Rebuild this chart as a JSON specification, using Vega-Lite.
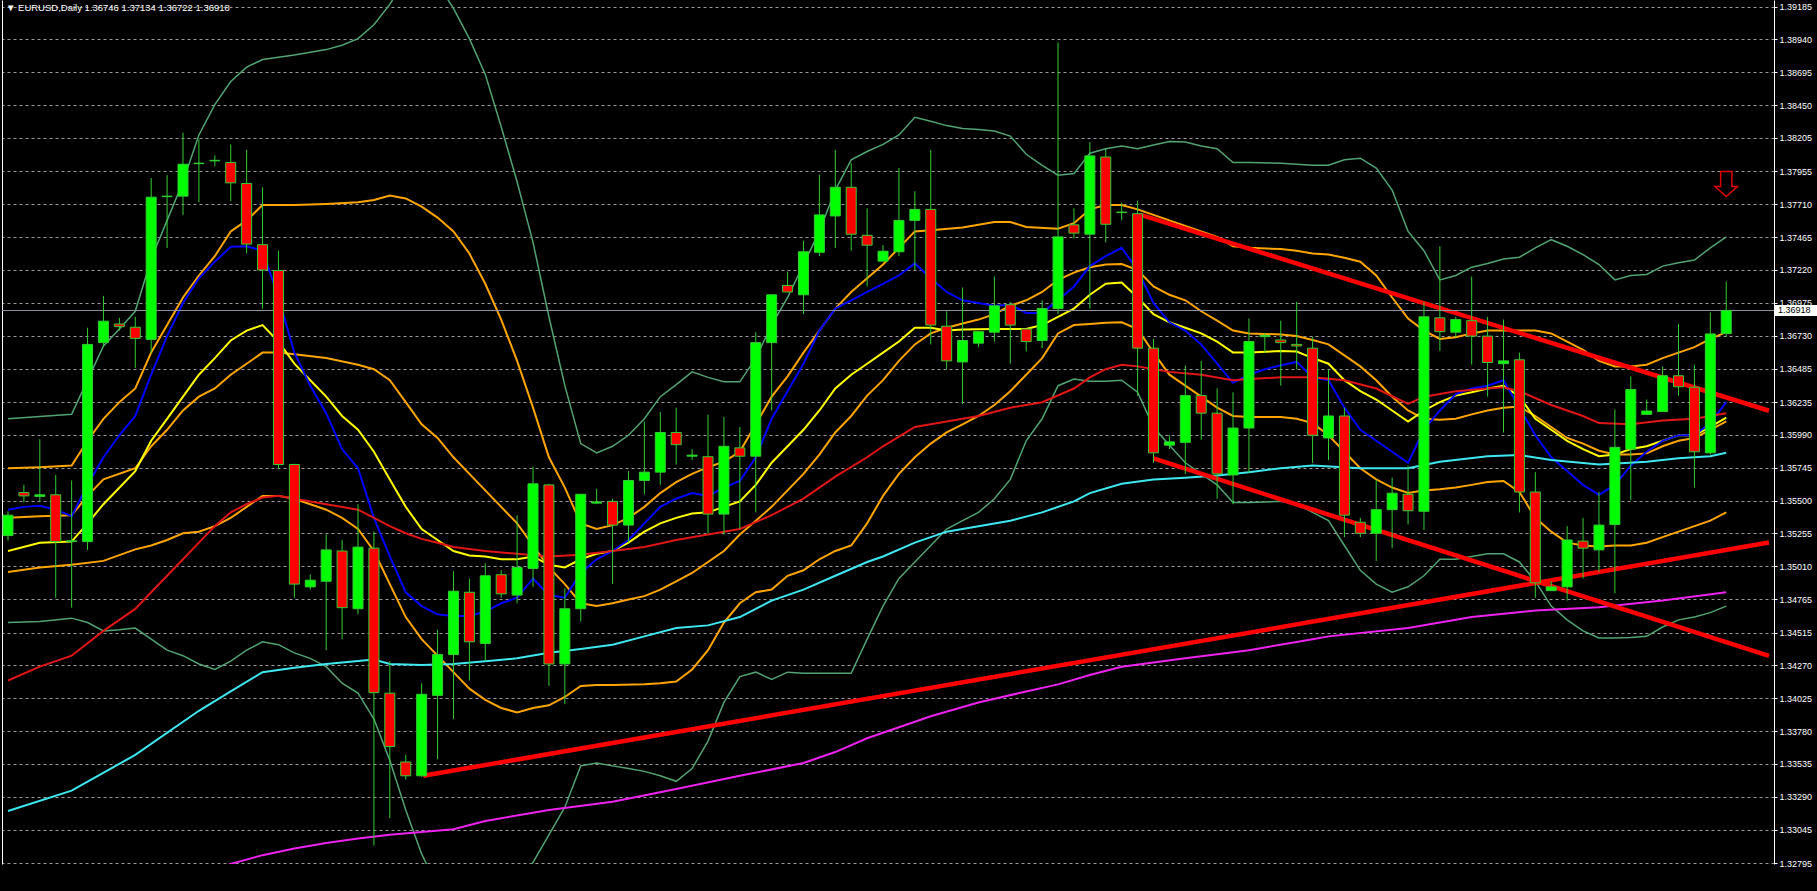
{
"$schema":"https://vega.github.io/schema/vega-lite/v6.json",
"width":1772,"height":864,
"autosize":{"type":"none"},
"padding":{"left":2,"top":0,"right":43,"bottom":27},
"background":"#000000",
"config":{"view":{"stroke":null},"font":"Liberation Sans"},
"title":{"text":"▼ EURUSD,Daily  1.36746 1.37134 1.36722 1.36918","anchor":"start","frame":"group","orient":"top","offset":-11,"dx":4,"dy":9,"color":"#ffffff","font":"Liberation Sans","fontSize":9.5,"fontWeight":"normal","baseline":"alphabetic"},
"resolve":{"axis":{"y":"independent"}},
"datasets":{
"candles":[
{"i":0,"o":1.35239,"h":1.35420,"l":1.35200,"c":1.35391},
{"i":1,"o":1.35560,"h":1.35617,"l":1.35486,"c":1.35535},
{"i":2,"o":1.35531,"h":1.35958,"l":1.35494,"c":1.35543},
{"i":3,"o":1.35543,"h":1.35691,"l":1.34775,"c":1.35194},
{"i":4,"o":1.35194,"h":1.35650,"l":1.34701,"c":1.35200},
{"i":5,"o":1.35194,"h":1.36789,"l":1.35132,"c":1.36665},
{"i":6,"o":1.36678,"h":1.37027,"l":1.36645,"c":1.36838},
{"i":7,"o":1.36817,"h":1.36863,"l":1.36768,"c":1.36797},
{"i":8,"o":1.36793,"h":1.36871,"l":1.36488,"c":1.36710},
{"i":9,"o":1.36702,"h":1.37906,"l":1.36600,"c":1.37763},
{"i":10,"o":1.37767,"h":1.37927,"l":1.37384,"c":1.37771},
{"i":11,"o":1.37771,"h":1.38244,"l":1.37631,"c":1.38009},
{"i":12,"o":1.38013,"h":1.38194,"l":1.37726,"c":1.38017},
{"i":13,"o":1.38034,"h":1.38075,"l":1.37993,"c":1.38038},
{"i":14,"o":1.38022,"h":1.38157,"l":1.37734,"c":1.37870},
{"i":15,"o":1.37865,"h":1.38116,"l":1.37343,"c":1.37413},
{"i":16,"o":1.37409,"h":1.37837,"l":1.36932,"c":1.37220},
{"i":17,"o":1.37216,"h":1.37364,"l":1.35736,"c":1.35769},
{"i":18,"o":1.35769,"h":1.35775,"l":1.34775,"c":1.34877},
{"i":19,"o":1.34856,"h":1.34948,"l":1.34836,"c":1.34906},
{"i":20,"o":1.34898,"h":1.35247,"l":1.34384,"c":1.35132},
{"i":21,"o":1.35124,"h":1.35206,"l":1.34466,"c":1.34701},
{"i":22,"o":1.34693,"h":1.35473,"l":1.34652,"c":1.35153},
{"i":23,"o":1.35145,"h":1.35268,"l":1.32925,"c":1.34067},
{"i":24,"o":1.34063,"h":1.34302,"l":1.33131,"c":1.33665},
{"i":25,"o":1.33550,"h":1.33603,"l":1.33418,"c":1.33447},
{"i":26,"o":1.33447,"h":1.34137,"l":1.33439,"c":1.34055},
{"i":27,"o":1.34047,"h":1.34536,"l":1.33570,"c":1.34351},
{"i":28,"o":1.34351,"h":1.34972,"l":1.33870,"c":1.34824},
{"i":29,"o":1.34816,"h":1.34919,"l":1.34158,"c":1.34446},
{"i":30,"o":1.34434,"h":1.35033,"l":1.34302,"c":1.34939},
{"i":31,"o":1.34947,"h":1.34980,"l":1.34775,"c":1.34804},
{"i":32,"o":1.34795,"h":1.35391,"l":1.34734,"c":1.35001},
{"i":33,"o":1.34993,"h":1.35753,"l":1.34857,"c":1.35625},
{"i":34,"o":1.35617,"h":1.35625,"l":1.34117,"c":1.34281},
{"i":35,"o":1.34281,"h":1.34845,"l":1.33981,"c":1.34693},
{"i":36,"o":1.34693,"h":1.35547,"l":1.34598,"c":1.35547},
{"i":37,"o":1.35481,"h":1.35588,"l":1.35473,"c":1.35490},
{"i":38,"o":1.35494,"h":1.35514,"l":1.34877,"c":1.35317},
{"i":39,"o":1.35317,"h":1.35720,"l":1.35186,"c":1.35650},
{"i":40,"o":1.35650,"h":1.36090,"l":1.35547,"c":1.35712},
{"i":41,"o":1.35712,"h":1.36160,"l":1.35617,"c":1.36008},
{"i":42,"o":1.36008,"h":1.36193,"l":1.35769,"c":1.35917},
{"i":43,"o":1.35831,"h":1.35884,"l":1.35802,"c":1.35839},
{"i":44,"o":1.35827,"h":1.36140,"l":1.35256,"c":1.35399},
{"i":45,"o":1.35399,"h":1.36123,"l":1.35247,"c":1.35905},
{"i":46,"o":1.35893,"h":1.36049,"l":1.35288,"c":1.35831},
{"i":47,"o":1.35831,"h":1.36756,"l":1.35412,"c":1.36678},
{"i":48,"o":1.36678,"h":1.37035,"l":1.36172,"c":1.37035},
{"i":49,"o":1.37105,"h":1.37208,"l":1.37056,"c":1.37056},
{"i":50,"o":1.37035,"h":1.37438,"l":1.36891,"c":1.37356},
{"i":51,"o":1.37352,"h":1.37931,"l":1.37323,"c":1.37631},
{"i":52,"o":1.37623,"h":1.38116,"l":1.37384,"c":1.37837},
{"i":53,"o":1.37837,"h":1.38017,"l":1.37364,"c":1.37487},
{"i":54,"o":1.37479,"h":1.37680,"l":1.37097,"c":1.37405},
{"i":55,"o":1.37286,"h":1.37405,"l":1.37286,"c":1.37360},
{"i":56,"o":1.37356,"h":1.37981,"l":1.37323,"c":1.37590},
{"i":57,"o":1.37590,"h":1.37808,"l":1.37220,"c":1.37672},
{"i":58,"o":1.37672,"h":1.38116,"l":1.36665,"c":1.36809},
{"i":59,"o":1.36801,"h":1.36912,"l":1.36480,"c":1.36542},
{"i":60,"o":1.36534,"h":1.37089,"l":1.36221,"c":1.36694},
{"i":61,"o":1.36674,"h":1.36760,"l":1.36645,"c":1.36760},
{"i":62,"o":1.36756,"h":1.37171,"l":1.36686,"c":1.36953},
{"i":63,"o":1.36961,"h":1.36982,"l":1.36521,"c":1.36809},
{"i":64,"o":1.36780,"h":1.36780,"l":1.36612,"c":1.36686},
{"i":65,"o":1.36694,"h":1.36994,"l":1.36637,"c":1.36932},
{"i":66,"o":1.36932,"h":1.38917,"l":1.36891,"c":1.37467},
{"i":67,"o":1.37557,"h":1.37680,"l":1.37454,"c":1.37495},
{"i":68,"o":1.37487,"h":1.38174,"l":1.36932,"c":1.38071},
{"i":69,"o":1.38063,"h":1.38124,"l":1.37426,"c":1.37561},
{"i":70,"o":1.37652,"h":1.37722,"l":1.37590,"c":1.37648},
{"i":71,"o":1.37640,"h":1.37734,"l":1.36283,"c":1.36637},
{"i":72,"o":1.36637,"h":1.36706,"l":1.35781,"c":1.35856},
{"i":73,"o":1.35913,"h":1.35987,"l":1.35884,"c":1.35938},
{"i":74,"o":1.35934,"h":1.36509,"l":1.35699,"c":1.36283},
{"i":75,"o":1.36283,"h":1.36542,"l":1.35954,"c":1.36152},
{"i":76,"o":1.36152,"h":1.36337,"l":1.35514,"c":1.35699},
{"i":77,"o":1.35691,"h":1.36308,"l":1.35473,"c":1.36041},
{"i":78,"o":1.36041,"h":1.36858,"l":1.35708,"c":1.36686},
{"i":79,"o":1.36723,"h":1.36748,"l":1.36604,"c":1.36731},
{"i":80,"o":1.36698,"h":1.36842,"l":1.36357,"c":1.36678},
{"i":81,"o":1.36665,"h":1.36982,"l":1.36480,"c":1.36653},
{"i":82,"o":1.36637,"h":1.36719,"l":1.35781,"c":1.35987},
{"i":83,"o":1.35967,"h":1.36480,"l":1.35802,"c":1.36131},
{"i":84,"o":1.36131,"h":1.36193,"l":1.35227,"c":1.35391},
{"i":85,"o":1.35338,"h":1.35371,"l":1.35227,"c":1.35256},
{"i":86,"o":1.35256,"h":1.35658,"l":1.35050,"c":1.35432},
{"i":87,"o":1.35432,"h":1.35671,"l":1.35145,"c":1.35555},
{"i":88,"o":1.35547,"h":1.35761,"l":1.35321,"c":1.35424},
{"i":89,"o":1.35420,"h":1.36982,"l":1.35280,"c":1.36871},
{"i":90,"o":1.36863,"h":1.37397,"l":1.36616,"c":1.36760},
{"i":91,"o":1.36756,"h":1.36871,"l":1.36719,"c":1.36850},
{"i":92,"o":1.36842,"h":1.37171,"l":1.36513,"c":1.36727},
{"i":93,"o":1.36727,"h":1.36871,"l":1.36275,"c":1.36530},
{"i":94,"o":1.36521,"h":1.36850,"l":1.36008,"c":1.36542},
{"i":95,"o":1.36550,"h":1.36604,"l":1.35412,"c":1.35564},
{"i":96,"o":1.35564,"h":1.35712,"l":1.34775,"c":1.34886},
{"i":97,"o":1.34828,"h":1.34898,"l":1.34828,"c":1.34856},
{"i":98,"o":1.34856,"h":1.35309,"l":1.34754,"c":1.35206},
{"i":99,"o":1.35198,"h":1.35371,"l":1.34918,"c":1.35145},
{"i":100,"o":1.35132,"h":1.35564,"l":1.34968,"c":1.35317},
{"i":101,"o":1.35321,"h":1.36180,"l":1.34808,"c":1.35897},
{"i":102,"o":1.35884,"h":1.36427,"l":1.35502,"c":1.36328},
{"i":103,"o":1.36143,"h":1.36254,"l":1.36143,"c":1.36168},
{"i":104,"o":1.36164,"h":1.36501,"l":1.36164,"c":1.36431},
{"i":105,"o":1.36431,"h":1.36817,"l":1.36283,"c":1.36349},
{"i":106,"o":1.36345,"h":1.36513,"l":1.35597,"c":1.35864},
{"i":107,"o":1.35856,"h":1.36904,"l":1.35843,"c":1.36743},
{"i":108,"o":1.36746,"h":1.37134,"l":1.36722,"c":1.36918}
],
"lines":[
{"s":"bbu","i":0,"v":1.36110},{"s":"bbu","i":4,"v":1.36143},{"s":"bbu","i":5,"v":1.36398},{"s":"bbu","i":6,"v":1.36653},{"s":"bbu","i":7,"v":1.36780},{"s":"bbu","i":8,"v":1.36912},{"s":"bbu","i":9,"v":1.37302},{"s":"bbu","i":10,"v":1.37590},{"s":"bbu","i":11,"v":1.37878},{"s":"bbu","i":12,"v":1.38227},{"s":"bbu","i":13,"v":1.38453},{"s":"bbu","i":14,"v":1.38626},{"s":"bbu","i":15,"v":1.38733},{"s":"bbu","i":16,"v":1.38790},{"s":"bbu","i":18,"v":1.38823},{"s":"bbu","i":20,"v":1.38864},{"s":"bbu","i":21,"v":1.38897},{"s":"bbu","i":22,"v":1.38946},{"s":"bbu","i":23,"v":1.39049},{"s":"bbu","i":24,"v":1.39201},{"s":"bbu","i":25,"v":1.39398},{"s":"bbu","i":26,"v":1.39460},{"s":"bbu","i":27,"v":1.39357},{"s":"bbu","i":28,"v":1.39172},{"s":"bbu","i":29,"v":1.38946},{"s":"bbu","i":30,"v":1.38679},{"s":"bbu","i":31,"v":1.38289},{"s":"bbu","i":32,"v":1.37878},{"s":"bbu","i":33,"v":1.37426},{"s":"bbu","i":34,"v":1.36871},{"s":"bbu","i":35,"v":1.36357},{"s":"bbu","i":36,"v":1.35925},{"s":"bbu","i":37,"v":1.35856},{"s":"bbu","i":38,"v":1.35905},{"s":"bbu","i":39,"v":1.35987},{"s":"bbu","i":40,"v":1.36110},{"s":"bbu","i":41,"v":1.36275},{"s":"bbu","i":42,"v":1.36365},{"s":"bbu","i":43,"v":1.36460},{"s":"bbu","i":44,"v":1.36419},{"s":"bbu","i":45,"v":1.36386},{"s":"bbu","i":46,"v":1.36386},{"s":"bbu","i":47,"v":1.36563},{"s":"bbu","i":48,"v":1.36809},{"s":"bbu","i":49,"v":1.37015},{"s":"bbu","i":50,"v":1.37261},{"s":"bbu","i":51,"v":1.37508},{"s":"bbu","i":52,"v":1.37816},{"s":"bbu","i":53,"v":1.38042},{"s":"bbu","i":54,"v":1.38104},{"s":"bbu","i":55,"v":1.38157},{"s":"bbu","i":56,"v":1.38227},{"s":"bbu","i":57,"v":1.38359},{"s":"bbu","i":58,"v":1.38330},{"s":"bbu","i":59,"v":1.38297},{"s":"bbu","i":60,"v":1.38276},{"s":"bbu","i":61,"v":1.38268},{"s":"bbu","i":62,"v":1.38256},{"s":"bbu","i":63,"v":1.38219},{"s":"bbu","i":64,"v":1.38083},{"s":"bbu","i":65,"v":1.38001},{"s":"bbu","i":66,"v":1.37927},{"s":"bbu","i":67,"v":1.37939},{"s":"bbu","i":68,"v":1.38091},{"s":"bbu","i":69,"v":1.38124},{"s":"bbu","i":70,"v":1.38145},{"s":"bbu","i":71,"v":1.38124},{"s":"bbu","i":72,"v":1.38153},{"s":"bbu","i":73,"v":1.38178},{"s":"bbu","i":74,"v":1.38174},{"s":"bbu","i":75,"v":1.38145},{"s":"bbu","i":76,"v":1.38124},{"s":"bbu","i":77,"v":1.38022},{"s":"bbu","i":78,"v":1.38022},{"s":"bbu","i":80,"v":1.38017},{"s":"bbu","i":82,"v":1.38001},{"s":"bbu","i":83,"v":1.38001},{"s":"bbu","i":84,"v":1.38042},{"s":"bbu","i":85,"v":1.38054},{"s":"bbu","i":86,"v":1.37980},{"s":"bbu","i":87,"v":1.37816},{"s":"bbu","i":88,"v":1.37508},{"s":"bbu","i":89,"v":1.37364},{"s":"bbu","i":90,"v":1.37146},{"s":"bbu","i":91,"v":1.37179},{"s":"bbu","i":92,"v":1.37241},{"s":"bbu","i":93,"v":1.37269},{"s":"bbu","i":94,"v":1.37302},{"s":"bbu","i":95,"v":1.37315},{"s":"bbu","i":96,"v":1.37385},{"s":"bbu","i":97,"v":1.37446},{"s":"bbu","i":98,"v":1.37397},{"s":"bbu","i":99,"v":1.37335},{"s":"bbu","i":100,"v":1.37261},{"s":"bbu","i":101,"v":1.37146},{"s":"bbu","i":102,"v":1.37179},{"s":"bbu","i":103,"v":1.37187},{"s":"bbu","i":104,"v":1.37249},{"s":"bbu","i":105,"v":1.37274},{"s":"bbu","i":106,"v":1.37294},{"s":"bbu","i":107,"v":1.37385},{"s":"bbu","i":108,"v":1.37467},
{"s":"bbl","i":0,"v":1.34590},{"s":"bbl","i":2,"v":1.34598},{"s":"bbl","i":4,"v":1.34623},{"s":"bbl","i":5,"v":1.34590},{"s":"bbl","i":6,"v":1.34528},{"s":"bbl","i":7,"v":1.34536},{"s":"bbl","i":8,"v":1.34549},{"s":"bbl","i":9,"v":1.34466},{"s":"bbl","i":10,"v":1.34384},{"s":"bbl","i":11,"v":1.34343},{"s":"bbl","i":12,"v":1.34281},{"s":"bbl","i":13,"v":1.34240},{"s":"bbl","i":14,"v":1.34302},{"s":"bbl","i":15,"v":1.34384},{"s":"bbl","i":16,"v":1.34446},{"s":"bbl","i":17,"v":1.34425},{"s":"bbl","i":18,"v":1.34364},{"s":"bbl","i":19,"v":1.34323},{"s":"bbl","i":20,"v":1.34261},{"s":"bbl","i":21,"v":1.34138},{"s":"bbl","i":22,"v":1.34064},{"s":"bbl","i":23,"v":1.33870},{"s":"bbl","i":24,"v":1.33562},{"s":"bbl","i":25,"v":1.33192},{"s":"bbl","i":26,"v":1.32864},{"s":"bbl","i":27,"v":1.32617},{"s":"bbl","i":28,"v":1.32453},{"s":"bbl","i":29,"v":1.32370},{"s":"bbl","i":30,"v":1.32411},{"s":"bbl","i":31,"v":1.32494},{"s":"bbl","i":32,"v":1.32658},{"s":"bbl","i":33,"v":1.32802},{"s":"bbl","i":34,"v":1.33007},{"s":"bbl","i":35,"v":1.33213},{"s":"bbl","i":36,"v":1.33521},{"s":"bbl","i":37,"v":1.33542},{"s":"bbl","i":38,"v":1.33521},{"s":"bbl","i":39,"v":1.33501},{"s":"bbl","i":40,"v":1.33480},{"s":"bbl","i":41,"v":1.33447},{"s":"bbl","i":42,"v":1.33406},{"s":"bbl","i":43,"v":1.33501},{"s":"bbl","i":44,"v":1.33706},{"s":"bbl","i":45,"v":1.33994},{"s":"bbl","i":46,"v":1.34187},{"s":"bbl","i":47,"v":1.34220},{"s":"bbl","i":48,"v":1.34166},{"s":"bbl","i":49,"v":1.34220},{"s":"bbl","i":50,"v":1.34212},{"s":"bbl","i":52,"v":1.34212},{"s":"bbl","i":53,"v":1.34212},{"s":"bbl","i":54,"v":1.34466},{"s":"bbl","i":55,"v":1.34713},{"s":"bbl","i":56,"v":1.34919},{"s":"bbl","i":57,"v":1.35042},{"s":"bbl","i":58,"v":1.35165},{"s":"bbl","i":59,"v":1.35288},{"s":"bbl","i":60,"v":1.35350},{"s":"bbl","i":61,"v":1.35412},{"s":"bbl","i":62,"v":1.35514},{"s":"bbl","i":63,"v":1.35658},{"s":"bbl","i":64,"v":1.35946},{"s":"bbl","i":65,"v":1.36110},{"s":"bbl","i":66,"v":1.36357},{"s":"bbl","i":67,"v":1.36406},{"s":"bbl","i":68,"v":1.36390},{"s":"bbl","i":69,"v":1.36390},{"s":"bbl","i":70,"v":1.36398},{"s":"bbl","i":71,"v":1.36308},{"s":"bbl","i":72,"v":1.36049},{"s":"bbl","i":73,"v":1.35913},{"s":"bbl","i":74,"v":1.35782},{"s":"bbl","i":75,"v":1.35699},{"s":"bbl","i":76,"v":1.35617},{"s":"bbl","i":77,"v":1.35486},{"s":"bbl","i":78,"v":1.35486},{"s":"bbl","i":80,"v":1.35494},{"s":"bbl","i":81,"v":1.35473},{"s":"bbl","i":82,"v":1.35412},{"s":"bbl","i":83,"v":1.35350},{"s":"bbl","i":84,"v":1.35165},{"s":"bbl","i":85,"v":1.34980},{"s":"bbl","i":86,"v":1.34877},{"s":"bbl","i":87,"v":1.34816},{"s":"bbl","i":88,"v":1.34857},{"s":"bbl","i":89,"v":1.34939},{"s":"bbl","i":90,"v":1.35062},{"s":"bbl","i":91,"v":1.35062},{"s":"bbl","i":92,"v":1.35083},{"s":"bbl","i":93,"v":1.35103},{"s":"bbl","i":94,"v":1.35103},{"s":"bbl","i":95,"v":1.35042},{"s":"bbl","i":96,"v":1.34898},{"s":"bbl","i":97,"v":1.34713},{"s":"bbl","i":98,"v":1.34610},{"s":"bbl","i":99,"v":1.34528},{"s":"bbl","i":100,"v":1.34475},{"s":"bbl","i":101,"v":1.34475},{"s":"bbl","i":102,"v":1.34479},{"s":"bbl","i":103,"v":1.34487},{"s":"bbl","i":104,"v":1.34557},{"s":"bbl","i":105,"v":1.34610},{"s":"bbl","i":106,"v":1.34631},{"s":"bbl","i":107,"v":1.34664},{"s":"bbl","i":108,"v":1.34713},
{"s":"ou","i":0,"v":1.35741},{"s":"ou","i":2,"v":1.35749},{"s":"ou","i":4,"v":1.35761},{"s":"ou","i":5,"v":1.35946},{"s":"ou","i":6,"v":1.36110},{"s":"ou","i":7,"v":1.36234},{"s":"ou","i":8,"v":1.36336},{"s":"ou","i":9,"v":1.36604},{"s":"ou","i":10,"v":1.36809},{"s":"ou","i":11,"v":1.37015},{"s":"ou","i":12,"v":1.37179},{"s":"ou","i":13,"v":1.37323},{"s":"ou","i":14,"v":1.37508},{"s":"ou","i":15,"v":1.37590},{"s":"ou","i":16,"v":1.37705},{"s":"ou","i":18,"v":1.37705},{"s":"ou","i":20,"v":1.37713},{"s":"ou","i":22,"v":1.37726},{"s":"ou","i":23,"v":1.37742},{"s":"ou","i":24,"v":1.37775},{"s":"ou","i":25,"v":1.37754},{"s":"ou","i":26,"v":1.37693},{"s":"ou","i":27,"v":1.37611},{"s":"ou","i":28,"v":1.37508},{"s":"ou","i":29,"v":1.37343},{"s":"ou","i":30,"v":1.37117},{"s":"ou","i":31,"v":1.36850},{"s":"ou","i":32,"v":1.36542},{"s":"ou","i":33,"v":1.36193},{"s":"ou","i":34,"v":1.35823},{"s":"ou","i":35,"v":1.35597},{"s":"ou","i":36,"v":1.35330},{"s":"ou","i":37,"v":1.35288},{"s":"ou","i":38,"v":1.35317},{"s":"ou","i":39,"v":1.35371},{"s":"ou","i":40,"v":1.35453},{"s":"ou","i":41,"v":1.35556},{"s":"ou","i":42,"v":1.35638},{"s":"ou","i":43,"v":1.35699},{"s":"ou","i":44,"v":1.35749},{"s":"ou","i":45,"v":1.35790},{"s":"ou","i":46,"v":1.35864},{"s":"ou","i":47,"v":1.36069},{"s":"ou","i":48,"v":1.36275},{"s":"ou","i":49,"v":1.36427},{"s":"ou","i":50,"v":1.36604},{"s":"ou","i":51,"v":1.36768},{"s":"ou","i":52,"v":1.36932},{"s":"ou","i":53,"v":1.37056},{"s":"ou","i":54,"v":1.37158},{"s":"ou","i":55,"v":1.37261},{"s":"ou","i":56,"v":1.37385},{"s":"ou","i":57,"v":1.37508},{"s":"ou","i":58,"v":1.37516},{"s":"ou","i":60,"v":1.37537},{"s":"ou","i":62,"v":1.37578},{"s":"ou","i":63,"v":1.37578},{"s":"ou","i":64,"v":1.37541},{"s":"ou","i":66,"v":1.37528},{"s":"ou","i":67,"v":1.37569},{"s":"ou","i":68,"v":1.37672},{"s":"ou","i":69,"v":1.37705},{"s":"ou","i":70,"v":1.37705},{"s":"ou","i":71,"v":1.37672},{"s":"ou","i":72,"v":1.37631},{"s":"ou","i":73,"v":1.37590},{"s":"ou","i":74,"v":1.37549},{"s":"ou","i":75,"v":1.37508},{"s":"ou","i":76,"v":1.37467},{"s":"ou","i":77,"v":1.37397},{"s":"ou","i":78,"v":1.37385},{"s":"ou","i":80,"v":1.37376},{"s":"ou","i":81,"v":1.37364},{"s":"ou","i":82,"v":1.37343},{"s":"ou","i":83,"v":1.37335},{"s":"ou","i":84,"v":1.37311},{"s":"ou","i":85,"v":1.37282},{"s":"ou","i":86,"v":1.37179},{"s":"ou","i":87,"v":1.37015},{"s":"ou","i":88,"v":1.36858},{"s":"ou","i":89,"v":1.36768},{"s":"ou","i":90,"v":1.36706},{"s":"ou","i":91,"v":1.36719},{"s":"ou","i":92,"v":1.36747},{"s":"ou","i":93,"v":1.36768},{"s":"ou","i":95,"v":1.36768},{"s":"ou","i":96,"v":1.36768},{"s":"ou","i":97,"v":1.36747},{"s":"ou","i":98,"v":1.36686},{"s":"ou","i":99,"v":1.36624},{"s":"ou","i":100,"v":1.36542},{"s":"ou","i":101,"v":1.36501},{"s":"ou","i":102,"v":1.36501},{"s":"ou","i":103,"v":1.36513},{"s":"ou","i":104,"v":1.36563},{"s":"ou","i":105,"v":1.36604},{"s":"ou","i":106,"v":1.36645},{"s":"ou","i":107,"v":1.36706},{"s":"ou","i":108,"v":1.36756},
{"s":"om","i":0,"v":1.35371},{"s":"om","i":2,"v":1.35383},{"s":"om","i":4,"v":1.35391},{"s":"om","i":5,"v":1.35535},{"s":"om","i":6,"v":1.35658},{"s":"om","i":8,"v":1.35741},{"s":"om","i":9,"v":1.35905},{"s":"om","i":10,"v":1.36028},{"s":"om","i":11,"v":1.36172},{"s":"om","i":12,"v":1.36275},{"s":"om","i":13,"v":1.36336},{"s":"om","i":14,"v":1.36439},{"s":"om","i":15,"v":1.36521},{"s":"om","i":16,"v":1.36604},{"s":"om","i":17,"v":1.36604},{"s":"om","i":18,"v":1.36591},{"s":"om","i":20,"v":1.36563},{"s":"om","i":22,"v":1.36513},{"s":"om","i":23,"v":1.36480},{"s":"om","i":24,"v":1.36398},{"s":"om","i":25,"v":1.36234},{"s":"om","i":26,"v":1.36069},{"s":"om","i":27,"v":1.35967},{"s":"om","i":28,"v":1.35823},{"s":"om","i":29,"v":1.35699},{"s":"om","i":30,"v":1.35576},{"s":"om","i":31,"v":1.35453},{"s":"om","i":32,"v":1.35330},{"s":"om","i":33,"v":1.35165},{"s":"om","i":34,"v":1.35001},{"s":"om","i":35,"v":1.34877},{"s":"om","i":36,"v":1.34734},{"s":"om","i":37,"v":1.34713},{"s":"om","i":38,"v":1.34734},{"s":"om","i":39,"v":1.34762},{"s":"om","i":40,"v":1.34787},{"s":"om","i":41,"v":1.34836},{"s":"om","i":42,"v":1.34898},{"s":"om","i":43,"v":1.34960},{"s":"om","i":44,"v":1.35042},{"s":"om","i":45,"v":1.35124},{"s":"om","i":46,"v":1.35247},{"s":"om","i":47,"v":1.35350},{"s":"om","i":48,"v":1.35453},{"s":"om","i":49,"v":1.35576},{"s":"om","i":50,"v":1.35699},{"s":"om","i":51,"v":1.35843},{"s":"om","i":52,"v":1.36008},{"s":"om","i":53,"v":1.36131},{"s":"om","i":54,"v":1.36283},{"s":"om","i":55,"v":1.36398},{"s":"om","i":56,"v":1.36542},{"s":"om","i":57,"v":1.36665},{"s":"om","i":58,"v":1.36747},{"s":"om","i":59,"v":1.36789},{"s":"om","i":60,"v":1.36821},{"s":"om","i":61,"v":1.36850},{"s":"om","i":62,"v":1.36891},{"s":"om","i":63,"v":1.36953},{"s":"om","i":64,"v":1.36994},{"s":"om","i":65,"v":1.37056},{"s":"om","i":66,"v":1.37146},{"s":"om","i":67,"v":1.37200},{"s":"om","i":68,"v":1.37241},{"s":"om","i":69,"v":1.37261},{"s":"om","i":70,"v":1.37265},{"s":"om","i":71,"v":1.37220},{"s":"om","i":72,"v":1.37097},{"s":"om","i":73,"v":1.37035},{"s":"om","i":74,"v":1.36994},{"s":"om","i":75,"v":1.36912},{"s":"om","i":76,"v":1.36842},{"s":"om","i":77,"v":1.36768},{"s":"om","i":78,"v":1.36747},{"s":"om","i":80,"v":1.36739},{"s":"om","i":81,"v":1.36727},{"s":"om","i":82,"v":1.36698},{"s":"om","i":83,"v":1.36665},{"s":"om","i":84,"v":1.36583},{"s":"om","i":85,"v":1.36501},{"s":"om","i":86,"v":1.36398},{"s":"om","i":87,"v":1.36275},{"s":"om","i":88,"v":1.36172},{"s":"om","i":89,"v":1.36110},{"s":"om","i":90,"v":1.36102},{"s":"om","i":91,"v":1.36110},{"s":"om","i":92,"v":1.36143},{"s":"om","i":93,"v":1.36172},{"s":"om","i":94,"v":1.36193},{"s":"om","i":95,"v":1.36201},{"s":"om","i":96,"v":1.36131},{"s":"om","i":97,"v":1.36049},{"s":"om","i":98,"v":1.35967},{"s":"om","i":99,"v":1.35925},{"s":"om","i":100,"v":1.35872},{"s":"om","i":101,"v":1.35843},{"s":"om","i":102,"v":1.35843},{"s":"om","i":103,"v":1.35852},{"s":"om","i":104,"v":1.35905},{"s":"om","i":105,"v":1.35946},{"s":"om","i":106,"v":1.35967},{"s":"om","i":107,"v":1.36028},{"s":"om","i":108,"v":1.36090},
{"s":"ol","i":0,"v":1.34968},{"s":"ol","i":2,"v":1.35001},{"s":"ol","i":4,"v":1.35021},{"s":"ol","i":6,"v":1.35050},{"s":"ol","i":8,"v":1.35136},{"s":"ol","i":9,"v":1.35165},{"s":"ol","i":10,"v":1.35206},{"s":"ol","i":11,"v":1.35256},{"s":"ol","i":12,"v":1.35268},{"s":"ol","i":13,"v":1.35309},{"s":"ol","i":14,"v":1.35371},{"s":"ol","i":15,"v":1.35453},{"s":"ol","i":16,"v":1.35535},{"s":"ol","i":17,"v":1.35535},{"s":"ol","i":18,"v":1.35514},{"s":"ol","i":19,"v":1.35473},{"s":"ol","i":20,"v":1.35432},{"s":"ol","i":21,"v":1.35371},{"s":"ol","i":22,"v":1.35288},{"s":"ol","i":23,"v":1.35124},{"s":"ol","i":24,"v":1.34877},{"s":"ol","i":25,"v":1.34631},{"s":"ol","i":26,"v":1.34466},{"s":"ol","i":27,"v":1.34343},{"s":"ol","i":28,"v":1.34220},{"s":"ol","i":29,"v":1.34097},{"s":"ol","i":30,"v":1.34014},{"s":"ol","i":31,"v":1.33953},{"s":"ol","i":32,"v":1.33920},{"s":"ol","i":33,"v":1.33953},{"s":"ol","i":34,"v":1.33973},{"s":"ol","i":35,"v":1.34035},{"s":"ol","i":36,"v":1.34117},{"s":"ol","i":37,"v":1.34125},{"s":"ol","i":38,"v":1.34125},{"s":"ol","i":40,"v":1.34129},{"s":"ol","i":41,"v":1.34138},{"s":"ol","i":42,"v":1.34150},{"s":"ol","i":43,"v":1.34240},{"s":"ol","i":44,"v":1.34384},{"s":"ol","i":45,"v":1.34590},{"s":"ol","i":46,"v":1.34734},{"s":"ol","i":47,"v":1.34816},{"s":"ol","i":48,"v":1.34836},{"s":"ol","i":49,"v":1.34939},{"s":"ol","i":50,"v":1.34980},{"s":"ol","i":51,"v":1.35062},{"s":"ol","i":52,"v":1.35124},{"s":"ol","i":53,"v":1.35165},{"s":"ol","i":54,"v":1.35330},{"s":"ol","i":55,"v":1.35535},{"s":"ol","i":56,"v":1.35699},{"s":"ol","i":57,"v":1.35823},{"s":"ol","i":58,"v":1.35925},{"s":"ol","i":59,"v":1.36008},{"s":"ol","i":60,"v":1.36069},{"s":"ol","i":61,"v":1.36131},{"s":"ol","i":62,"v":1.36213},{"s":"ol","i":63,"v":1.36316},{"s":"ol","i":64,"v":1.36439},{"s":"ol","i":65,"v":1.36563},{"s":"ol","i":66,"v":1.36747},{"s":"ol","i":67,"v":1.36809},{"s":"ol","i":68,"v":1.36817},{"s":"ol","i":69,"v":1.36826},{"s":"ol","i":70,"v":1.36830},{"s":"ol","i":71,"v":1.36780},{"s":"ol","i":72,"v":1.36604},{"s":"ol","i":73,"v":1.36439},{"s":"ol","i":74,"v":1.36357},{"s":"ol","i":75,"v":1.36275},{"s":"ol","i":76,"v":1.36193},{"s":"ol","i":77,"v":1.36131},{"s":"ol","i":78,"v":1.36123},{"s":"ol","i":80,"v":1.36123},{"s":"ol","i":81,"v":1.36110},{"s":"ol","i":82,"v":1.36078},{"s":"ol","i":83,"v":1.35987},{"s":"ol","i":84,"v":1.35864},{"s":"ol","i":85,"v":1.35741},{"s":"ol","i":86,"v":1.35658},{"s":"ol","i":87,"v":1.35597},{"s":"ol","i":88,"v":1.35556},{"s":"ol","i":89,"v":1.35576},{"s":"ol","i":90,"v":1.35584},{"s":"ol","i":91,"v":1.35597},{"s":"ol","i":92,"v":1.35617},{"s":"ol","i":93,"v":1.35638},{"s":"ol","i":94,"v":1.35646},{"s":"ol","i":95,"v":1.35564},{"s":"ol","i":96,"v":1.35371},{"s":"ol","i":97,"v":1.35268},{"s":"ol","i":98,"v":1.35186},{"s":"ol","i":99,"v":1.35165},{"s":"ol","i":100,"v":1.35157},{"s":"ol","i":101,"v":1.35165},{"s":"ol","i":102,"v":1.35165},{"s":"ol","i":103,"v":1.35186},{"s":"ol","i":104,"v":1.35227},{"s":"ol","i":105,"v":1.35268},{"s":"ol","i":106,"v":1.35309},{"s":"ol","i":107,"v":1.35350},{"s":"ol","i":108,"v":1.35412},
{"s":"ye","i":0,"v":1.35124},{"s":"ye","i":2,"v":1.35186},{"s":"ye","i":4,"v":1.35194},{"s":"ye","i":5,"v":1.35330},{"s":"ye","i":6,"v":1.35473},{"s":"ye","i":8,"v":1.35720},{"s":"ye","i":9,"v":1.35946},{"s":"ye","i":10,"v":1.36110},{"s":"ye","i":11,"v":1.36275},{"s":"ye","i":12,"v":1.36439},{"s":"ye","i":13,"v":1.36563},{"s":"ye","i":14,"v":1.36694},{"s":"ye","i":15,"v":1.36768},{"s":"ye","i":16,"v":1.36809},{"s":"ye","i":17,"v":1.36686},{"s":"ye","i":18,"v":1.36521},{"s":"ye","i":19,"v":1.36398},{"s":"ye","i":20,"v":1.36275},{"s":"ye","i":21,"v":1.36131},{"s":"ye","i":22,"v":1.36028},{"s":"ye","i":23,"v":1.35864},{"s":"ye","i":24,"v":1.35658},{"s":"ye","i":25,"v":1.35453},{"s":"ye","i":26,"v":1.35288},{"s":"ye","i":27,"v":1.35206},{"s":"ye","i":28,"v":1.35124},{"s":"ye","i":29,"v":1.35091},{"s":"ye","i":30,"v":1.35083},{"s":"ye","i":31,"v":1.35062},{"s":"ye","i":32,"v":1.35062},{"s":"ye","i":33,"v":1.35083},{"s":"ye","i":34,"v":1.35021},{"s":"ye","i":35,"v":1.35001},{"s":"ye","i":36,"v":1.35062},{"s":"ye","i":37,"v":1.35103},{"s":"ye","i":38,"v":1.35124},{"s":"ye","i":39,"v":1.35186},{"s":"ye","i":40,"v":1.35268},{"s":"ye","i":41,"v":1.35330},{"s":"ye","i":42,"v":1.35371},{"s":"ye","i":43,"v":1.35404},{"s":"ye","i":44,"v":1.35412},{"s":"ye","i":45,"v":1.35453},{"s":"ye","i":46,"v":1.35494},{"s":"ye","i":47,"v":1.35617},{"s":"ye","i":48,"v":1.35782},{"s":"ye","i":49,"v":1.35905},{"s":"ye","i":50,"v":1.36028},{"s":"ye","i":51,"v":1.36172},{"s":"ye","i":52,"v":1.36336},{"s":"ye","i":53,"v":1.36439},{"s":"ye","i":54,"v":1.36521},{"s":"ye","i":55,"v":1.36604},{"s":"ye","i":56,"v":1.36686},{"s":"ye","i":57,"v":1.36789},{"s":"ye","i":58,"v":1.36789},{"s":"ye","i":59,"v":1.36768},{"s":"ye","i":60,"v":1.36776},{"s":"ye","i":62,"v":1.36780},{"s":"ye","i":64,"v":1.36780},{"s":"ye","i":65,"v":1.36809},{"s":"ye","i":66,"v":1.36871},{"s":"ye","i":67,"v":1.36932},{"s":"ye","i":68,"v":1.37035},{"s":"ye","i":69,"v":1.37117},{"s":"ye","i":70,"v":1.37126},{"s":"ye","i":71,"v":1.37015},{"s":"ye","i":72,"v":1.36891},{"s":"ye","i":73,"v":1.36830},{"s":"ye","i":74,"v":1.36789},{"s":"ye","i":75,"v":1.36747},{"s":"ye","i":76,"v":1.36686},{"s":"ye","i":77,"v":1.36604},{"s":"ye","i":78,"v":1.36604},{"s":"ye","i":80,"v":1.36616},{"s":"ye","i":81,"v":1.36612},{"s":"ye","i":82,"v":1.36563},{"s":"ye","i":83,"v":1.36521},{"s":"ye","i":84,"v":1.36398},{"s":"ye","i":85,"v":1.36316},{"s":"ye","i":86,"v":1.36254},{"s":"ye","i":87,"v":1.36172},{"s":"ye","i":88,"v":1.36090},{"s":"ye","i":89,"v":1.36172},{"s":"ye","i":90,"v":1.36234},{"s":"ye","i":91,"v":1.36283},{"s":"ye","i":92,"v":1.36308},{"s":"ye","i":93,"v":1.36336},{"s":"ye","i":94,"v":1.36357},{"s":"ye","i":95,"v":1.36275},{"s":"ye","i":96,"v":1.36110},{"s":"ye","i":97,"v":1.36028},{"s":"ye","i":98,"v":1.35946},{"s":"ye","i":99,"v":1.35884},{"s":"ye","i":100,"v":1.35831},{"s":"ye","i":101,"v":1.35843},{"s":"ye","i":102,"v":1.35884},{"s":"ye","i":103,"v":1.35905},{"s":"ye","i":104,"v":1.35946},{"s":"ye","i":105,"v":1.35987},{"s":"ye","i":106,"v":1.35987},{"s":"ye","i":107,"v":1.36049},{"s":"ye","i":108,"v":1.36119},
{"s":"bl","i":0,"v":1.35432},{"s":"bl","i":1,"v":1.35453},{"s":"bl","i":2,"v":1.35461},{"s":"bl","i":3,"v":1.35432},{"s":"bl","i":4,"v":1.35383},{"s":"bl","i":5,"v":1.35617},{"s":"bl","i":6,"v":1.35823},{"s":"bl","i":7,"v":1.35987},{"s":"bl","i":8,"v":1.36131},{"s":"bl","i":9,"v":1.36439},{"s":"bl","i":10,"v":1.36727},{"s":"bl","i":11,"v":1.36974},{"s":"bl","i":12,"v":1.37158},{"s":"bl","i":13,"v":1.37282},{"s":"bl","i":14,"v":1.37393},{"s":"bl","i":15,"v":1.37397},{"s":"bl","i":16,"v":1.37364},{"s":"bl","i":17,"v":1.37015},{"s":"bl","i":18,"v":1.36604},{"s":"bl","i":19,"v":1.36357},{"s":"bl","i":20,"v":1.36152},{"s":"bl","i":21,"v":1.35884},{"s":"bl","i":22,"v":1.35741},{"s":"bl","i":23,"v":1.35371},{"s":"bl","i":24,"v":1.35083},{"s":"bl","i":25,"v":1.34816},{"s":"bl","i":26,"v":1.34713},{"s":"bl","i":27,"v":1.34651},{"s":"bl","i":28,"v":1.34639},{"s":"bl","i":29,"v":1.34639},{"s":"bl","i":30,"v":1.34672},{"s":"bl","i":31,"v":1.34734},{"s":"bl","i":32,"v":1.34775},{"s":"bl","i":33,"v":1.34919},{"s":"bl","i":34,"v":1.34795},{"s":"bl","i":35,"v":1.34775},{"s":"bl","i":36,"v":1.34960},{"s":"bl","i":37,"v":1.35062},{"s":"bl","i":38,"v":1.35124},{"s":"bl","i":39,"v":1.35206},{"s":"bl","i":40,"v":1.35330},{"s":"bl","i":41,"v":1.35453},{"s":"bl","i":42,"v":1.35514},{"s":"bl","i":43,"v":1.35556},{"s":"bl","i":44,"v":1.35535},{"s":"bl","i":45,"v":1.35597},{"s":"bl","i":46,"v":1.35646},{"s":"bl","i":47,"v":1.35823},{"s":"bl","i":48,"v":1.36110},{"s":"bl","i":49,"v":1.36316},{"s":"bl","i":50,"v":1.36521},{"s":"bl","i":51,"v":1.36768},{"s":"bl","i":52,"v":1.36932},{"s":"bl","i":53,"v":1.36994},{"s":"bl","i":54,"v":1.37056},{"s":"bl","i":55,"v":1.37117},{"s":"bl","i":56,"v":1.37179},{"s":"bl","i":57,"v":1.37269},{"s":"bl","i":58,"v":1.37158},{"s":"bl","i":59,"v":1.37056},{"s":"bl","i":60,"v":1.36994},{"s":"bl","i":61,"v":1.36974},{"s":"bl","i":62,"v":1.36953},{"s":"bl","i":63,"v":1.36961},{"s":"bl","i":64,"v":1.36900},{"s":"bl","i":65,"v":1.36900},{"s":"bl","i":66,"v":1.36994},{"s":"bl","i":67,"v":1.37097},{"s":"bl","i":68,"v":1.37249},{"s":"bl","i":69,"v":1.37323},{"s":"bl","i":70,"v":1.37385},{"s":"bl","i":71,"v":1.37220},{"s":"bl","i":72,"v":1.36974},{"s":"bl","i":73,"v":1.36830},{"s":"bl","i":74,"v":1.36768},{"s":"bl","i":75,"v":1.36665},{"s":"bl","i":76,"v":1.36521},{"s":"bl","i":77,"v":1.36378},{"s":"bl","i":78,"v":1.36439},{"s":"bl","i":79,"v":1.36480},{"s":"bl","i":80,"v":1.36509},{"s":"bl","i":81,"v":1.36534},{"s":"bl","i":82,"v":1.36419},{"s":"bl","i":83,"v":1.36398},{"s":"bl","i":84,"v":1.36193},{"s":"bl","i":85,"v":1.36028},{"s":"bl","i":86,"v":1.35946},{"s":"bl","i":87,"v":1.35864},{"s":"bl","i":88,"v":1.35782},{"s":"bl","i":89,"v":1.36028},{"s":"bl","i":90,"v":1.36172},{"s":"bl","i":91,"v":1.36295},{"s":"bl","i":92,"v":1.36336},{"s":"bl","i":93,"v":1.36357},{"s":"bl","i":94,"v":1.36398},{"s":"bl","i":95,"v":1.36193},{"s":"bl","i":96,"v":1.35987},{"s":"bl","i":97,"v":1.35823},{"s":"bl","i":98,"v":1.35720},{"s":"bl","i":99,"v":1.35617},{"s":"bl","i":100,"v":1.35543},{"s":"bl","i":101,"v":1.35617},{"s":"bl","i":102,"v":1.35761},{"s":"bl","i":103,"v":1.35864},{"s":"bl","i":104,"v":1.35946},{"s":"bl","i":105,"v":1.35987},{"s":"bl","i":106,"v":1.35987},{"s":"bl","i":107,"v":1.36078},{"s":"bl","i":108,"v":1.36234},
{"s":"rd","i":0,"v":1.34158},{"s":"rd","i":2,"v":1.34261},{"s":"rd","i":4,"v":1.34343},{"s":"rd","i":6,"v":1.34528},{"s":"rd","i":8,"v":1.34692},{"s":"rd","i":9,"v":1.34816},{"s":"rd","i":10,"v":1.34939},{"s":"rd","i":11,"v":1.35062},{"s":"rd","i":12,"v":1.35186},{"s":"rd","i":13,"v":1.35309},{"s":"rd","i":14,"v":1.35412},{"s":"rd","i":15,"v":1.35473},{"s":"rd","i":16,"v":1.35523},{"s":"rd","i":17,"v":1.35535},{"s":"rd","i":18,"v":1.35514},{"s":"rd","i":20,"v":1.35473},{"s":"rd","i":22,"v":1.35432},{"s":"rd","i":23,"v":1.35371},{"s":"rd","i":24,"v":1.35309},{"s":"rd","i":25,"v":1.35256},{"s":"rd","i":26,"v":1.35214},{"s":"rd","i":27,"v":1.35186},{"s":"rd","i":28,"v":1.35153},{"s":"rd","i":30,"v":1.35124},{"s":"rd","i":32,"v":1.35103},{"s":"rd","i":34,"v":1.35083},{"s":"rd","i":36,"v":1.35095},{"s":"rd","i":38,"v":1.35124},{"s":"rd","i":40,"v":1.35153},{"s":"rd","i":42,"v":1.35206},{"s":"rd","i":44,"v":1.35247},{"s":"rd","i":46,"v":1.35288},{"s":"rd","i":48,"v":1.35391},{"s":"rd","i":50,"v":1.35514},{"s":"rd","i":52,"v":1.35679},{"s":"rd","i":54,"v":1.35823},{"s":"rd","i":55,"v":1.35905},{"s":"rd","i":57,"v":1.36049},{"s":"rd","i":59,"v":1.36090},{"s":"rd","i":61,"v":1.36131},{"s":"rd","i":63,"v":1.36193},{"s":"rd","i":65,"v":1.36234},{"s":"rd","i":67,"v":1.36336},{"s":"rd","i":68,"v":1.36419},{"s":"rd","i":69,"v":1.36480},{"s":"rd","i":70,"v":1.36513},{"s":"rd","i":71,"v":1.36501},{"s":"rd","i":73,"v":1.36460},{"s":"rd","i":75,"v":1.36439},{"s":"rd","i":77,"v":1.36398},{"s":"rd","i":78,"v":1.36406},{"s":"rd","i":80,"v":1.36419},{"s":"rd","i":82,"v":1.36419},{"s":"rd","i":84,"v":1.36398},{"s":"rd","i":86,"v":1.36336},{"s":"rd","i":88,"v":1.36221},{"s":"rd","i":89,"v":1.36275},{"s":"rd","i":91,"v":1.36316},{"s":"rd","i":93,"v":1.36336},{"s":"rd","i":94,"v":1.36345},{"s":"rd","i":95,"v":1.36316},{"s":"rd","i":97,"v":1.36213},{"s":"rd","i":99,"v":1.36131},{"s":"rd","i":100,"v":1.36078},{"s":"rd","i":102,"v":1.36069},{"s":"rd","i":104,"v":1.36098},{"s":"rd","i":106,"v":1.36110},{"s":"rd","i":108,"v":1.36152},
{"s":"cy","i":0,"v":1.33184},{"s":"cy","i":4,"v":1.33336},{"s":"cy","i":8,"v":1.33603},{"s":"cy","i":12,"v":1.33932},{"s":"cy","i":14,"v":1.34076},{"s":"cy","i":16,"v":1.34220},{"s":"cy","i":18,"v":1.34253},{"s":"cy","i":20,"v":1.34281},{"s":"cy","i":23,"v":1.34314},{"s":"cy","i":24,"v":1.34281},{"s":"cy","i":26,"v":1.34273},{"s":"cy","i":28,"v":1.34281},{"s":"cy","i":30,"v":1.34302},{"s":"cy","i":32,"v":1.34323},{"s":"cy","i":34,"v":1.34364},{"s":"cy","i":36,"v":1.34392},{"s":"cy","i":38,"v":1.34425},{"s":"cy","i":40,"v":1.34487},{"s":"cy","i":42,"v":1.34549},{"s":"cy","i":44,"v":1.34569},{"s":"cy","i":46,"v":1.34631},{"s":"cy","i":48,"v":1.34754},{"s":"cy","i":50,"v":1.34836},{"s":"cy","i":52,"v":1.34939},{"s":"cy","i":54,"v":1.35042},{"s":"cy","i":55,"v":1.35083},{"s":"cy","i":57,"v":1.35186},{"s":"cy","i":59,"v":1.35268},{"s":"cy","i":61,"v":1.35309},{"s":"cy","i":63,"v":1.35350},{"s":"cy","i":65,"v":1.35412},{"s":"cy","i":67,"v":1.35494},{"s":"cy","i":68,"v":1.35556},{"s":"cy","i":70,"v":1.35625},{"s":"cy","i":72,"v":1.35658},{"s":"cy","i":74,"v":1.35671},{"s":"cy","i":76,"v":1.35687},{"s":"cy","i":78,"v":1.35712},{"s":"cy","i":80,"v":1.35741},{"s":"cy","i":82,"v":1.35761},{"s":"cy","i":85,"v":1.35741},{"s":"cy","i":88,"v":1.35741},{"s":"cy","i":90,"v":1.35790},{"s":"cy","i":93,"v":1.35831},{"s":"cy","i":95,"v":1.35839},{"s":"cy","i":97,"v":1.35802},{"s":"cy","i":100,"v":1.35769},{"s":"cy","i":103,"v":1.35790},{"s":"cy","i":105,"v":1.35815},{"s":"cy","i":107,"v":1.35831},{"s":"cy","i":108,"v":1.35856},
{"s":"mg","i":10,"v":1.32576},{"s":"mg","i":12,"v":1.32699},{"s":"mg","i":14,"v":1.32790},{"s":"mg","i":16,"v":1.32855},{"s":"mg","i":18,"v":1.32905},{"s":"mg","i":20,"v":1.32946},{"s":"mg","i":22,"v":1.32979},{"s":"mg","i":24,"v":1.33007},{"s":"mg","i":26,"v":1.33028},{"s":"mg","i":28,"v":1.33048},{"s":"mg","i":30,"v":1.33110},{"s":"mg","i":34,"v":1.33192},{"s":"mg","i":38,"v":1.33254},{"s":"mg","i":42,"v":1.33349},{"s":"mg","i":46,"v":1.33447},{"s":"mg","i":50,"v":1.33542},{"s":"mg","i":52,"v":1.33624},{"s":"mg","i":54,"v":1.33727},{"s":"mg","i":55,"v":1.33768},{"s":"mg","i":58,"v":1.33891},{"s":"mg","i":61,"v":1.33994},{"s":"mg","i":64,"v":1.34076},{"s":"mg","i":66,"v":1.34129},{"s":"mg","i":68,"v":1.34199},{"s":"mg","i":70,"v":1.34261},{"s":"mg","i":74,"v":1.34323},{"s":"mg","i":78,"v":1.34384},{"s":"mg","i":82,"v":1.34466},{"s":"mg","i":83,"v":1.34487},{"s":"mg","i":88,"v":1.34549},{"s":"mg","i":92,"v":1.34631},{"s":"mg","i":96,"v":1.34680},{"s":"mg","i":100,"v":1.34705},{"s":"mg","i":104,"v":1.34754},{"s":"mg","i":108,"v":1.34816}
],
"trend":[
{"t":"up","i":26.1,"v":1.33447},{"t":"up","i":110.6875,"v":1.35187},
{"t":"dh","i":71.2,"v":1.37631},{"t":"dh","i":110.6875,"v":1.36170},
{"t":"dl","i":72,"v":1.35814},{"t":"dl","i":110.6875,"v":1.34341}
],
"bid":[{"v":1.36918,"label":"1.36918"}],
"arrow":[{"i":108,"v":1.37861}]
},
"layer":[
{"data":{"name":"lines"},
 "transform":[{"filter":{"field":"s","oneOf":["bbu","bbl"]}}],
 "mark":{"type":"line","color":"#52a372","strokeWidth":1.5,"clip":true},
 "encoding":{
  "x":{"field":"i","type":"quantitative","scale":{"domain":[-0.0625,110.6875],"nice":false,"zero":false},
   "axis":{"values":[0,2,4,6,8,10,12,14,16,18,20,22,24,26,28,30,32,34,36,38,40,42,44,46,48,50,52,54,56,58,60,62,64,66,68,70,72,74,76,78,80,82,84,86,88,90,92,94,96,98,100,102,104,106,108,110],
    "labelExpr":"(datum.value % 4 === 0 && datum.value <= 108) ? ['11 Oct 2013','16 Oct 2013','21 Oct 2013','25 Oct 2013','30 Oct 2013','4 Nov 2013','8 Nov 2013','13 Nov 2013','18 Nov 2013','22 Nov 2013','27 Nov 2013','2 Dec 2013','6 Dec 2013','11 Dec 2013','16 Dec 2013','20 Dec 2013','25 Dec 2013','30 Dec 2013','3 Jan 2014','8 Jan 2014','13 Jan 2014','17 Jan 2014','22 Jan 2014','27 Jan 2014','31 Jan 2014','5 Feb 2014','10 Feb 2014','14 Feb 2014'][datum.value / 4] : ''",
    "labelAlign":"left","labelBaseline":"top","labelColor":"#ffffff","labelFont":"Liberation Sans","labelFontSize":9,"labelPadding":2,"labelOffset":1,"labelOverlap":false,"labelFlush":false,
    "tickColor":"#ffffff","tickSize":4,"tickOpacity":{"condition":{"test":"datum.value % 4 === 0 && datum.value <= 108","value":1},"value":0},
    "domainColor":"#ffffff","grid":true,"gridColor":"#9b9b9b","gridDash":[3,3],"gridWidth":1,"title":null}},
  "y":{"field":"v","type":"quantitative","scale":{"domain":[1.32789,1.39234],"nice":false,"zero":false},
   "axis":{"orient":"right","values":[1.39185,1.3894,1.38695,1.3845,1.38205,1.37955,1.3771,1.37465,1.3722,1.36975,1.3673,1.36485,1.36235,1.3599,1.35745,1.355,1.35255,1.3501,1.34765,1.34515,1.3427,1.34025,1.3378,1.33535,1.3329,1.33045,1.32795],
    "format":".5f","labelColor":"#ffffff","labelFont":"Liberation Sans","labelFontSize":9,"labelPadding":2,"labelOverlap":false,"labelBaseline":"middle",
    "tickSize":3,"tickColor":"#ffffff","domainColor":"#ffffff","grid":true,"gridColor":"#9b9b9b","gridDash":[3,3],"gridWidth":1,"title":null}},
  "detail":{"field":"s"}}},
{"data":{"name":"lines"},
 "transform":[{"filter":{"field":"s","oneOf":["ou","om","ol","ye","bl","rd","cy","mg"]}}],
 "mark":{"type":"line","strokeWidth":2,"clip":true},
 "encoding":{
  "x":{"field":"i","type":"quantitative","scale":{"domain":[-0.0625,110.6875],"nice":false,"zero":false},"axis":null},
  "y":{"field":"v","type":"quantitative","scale":{"domain":[1.32789,1.39234],"nice":false,"zero":false},"axis":null},
  "color":{"field":"s","type":"nominal","scale":{"domain":["ou","om","ol","ye","bl","rd","cy","mg"],"range":["#ffa500","#ffa500","#ffa500","#ffff00","#0000ff","#e01515","#3ee8f0","#ee22ee"]},"legend":null}}},
{"data":{"name":"trend"},
 "mark":{"type":"line","color":"#ff0000","strokeWidth":4.5,"clip":true},
 "encoding":{
  "x":{"field":"i","type":"quantitative","scale":{"domain":[-0.0625,110.6875],"nice":false,"zero":false},"axis":null},
  "y":{"field":"v","type":"quantitative","scale":{"domain":[1.32789,1.39234],"nice":false,"zero":false},"axis":null},
  "detail":{"field":"t"}}},
{"data":{"name":"bid"},
 "mark":{"type":"rule","color":"#8d96a0","strokeWidth":1},
 "encoding":{"y":{"field":"v","type":"quantitative","scale":{"domain":[1.32789,1.39234],"nice":false,"zero":false},"axis":null}}},
{"data":{"name":"candles"},
 "mark":{"type":"rule","color":"#32cd32","strokeWidth":1,"clip":true},
 "encoding":{
  "x":{"field":"i","type":"quantitative","scale":{"domain":[-0.0625,110.6875],"nice":false,"zero":false},"axis":null},
  "y":{"field":"l","type":"quantitative","scale":{"domain":[1.32789,1.39234],"nice":false,"zero":false},"axis":null},
  "y2":{"field":"h"}}},
{"data":{"name":"candles"},
 "mark":{"type":"bar","width":10,"stroke":"#32cd32","strokeWidth":1,"clip":true},
 "encoding":{
  "x":{"field":"i","type":"quantitative","scale":{"domain":[-0.0625,110.6875],"nice":false,"zero":false},"axis":null},
  "y":{"field":"o","type":"quantitative","scale":{"domain":[1.32789,1.39234],"nice":false,"zero":false},
   "axis":{"orient":"left","labels":false,"ticks":false,"grid":false,"domain":true,"domainColor":"#ffffff","title":null}},
  "y2":{"field":"c"},
  "fill":{"condition":{"test":"datum.c >= datum.o","value":"#00ff00"},"value":"#ff0000"}}},
{"data":{"name":"arrow"},
 "mark":{"type":"point","shape":"M -0.45 -1 L 0.45 -1 L 0.45 0.2 L 0.9 0.2 L 0 1 L -0.9 0.2 L -0.45 0.2 Z","size":625,"filled":false,"color":"#e00000","strokeWidth":1.5,"opacity":1},
 "encoding":{
  "x":{"field":"i","type":"quantitative","scale":{"domain":[-0.0625,110.6875],"nice":false,"zero":false},"axis":null},
  "y":{"field":"v","type":"quantitative","scale":{"domain":[1.32789,1.39234],"nice":false,"zero":false},"axis":null}}},
{"data":{"name":"bid"},
 "mark":{"type":"point","shape":"M 0 -0.45 L 3.6 -0.45 L 3.6 0.45 L 0 0.45 Z","size":576,"filled":true,"color":"#ffffff","opacity":1,"strokeWidth":0,"clip":false},
 "encoding":{
  "x":{"value":"width"},
  "y":{"field":"v","type":"quantitative","scale":{"domain":[1.32789,1.39234],"nice":false,"zero":false},"axis":null}}},
{"data":{"name":"bid"},
 "mark":{"type":"text","align":"left","baseline":"middle","dx":4,"color":"#000000","font":"Liberation Sans","fontSize":9},
 "encoding":{
  "x":{"value":"width"},
  "y":{"field":"v","type":"quantitative","scale":{"domain":[1.32789,1.39234],"nice":false,"zero":false},"axis":null},
  "text":{"field":"label"}}}
]
}
